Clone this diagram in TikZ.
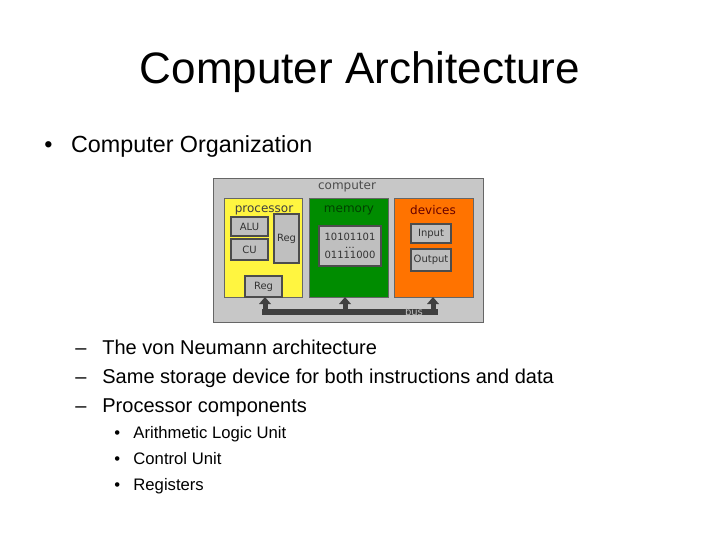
\documentclass[tikz,border=0pt]{standalone}
\usepackage{fontspec}
\setmainfont{Liberation Sans}
\newfontfamily\vfont{DejaVu Sans}
\begin{document}
\begin{tikzpicture}[x=0.75pt,y=-0.75pt,
  gbox/.style={draw=black!70,fill=black!25,line width=0.8pt},
  lbl/.style={font=\vfont\fontsize{7.5}{8}\selectfont,inner sep=0pt,text=black!80},
  hd/.style={font=\vfont\fontsize{9}{10}\selectfont,inner sep=0pt},
  txt/.style={anchor=base west,inner sep=0pt}]
\useasboundingbox (0,0) rectangle (720,540);
\node[txt,anchor=base,font=\fontsize{33}{38}\selectfont] (title) at (360,83) {Computer Architecture};
\node[txt,font=\fontsize{17.5}{20}\selectfont] (b1) at (44,152) {•\hspace{14pt}Computer Organization};
% diagram
\draw[fill=black!22,draw=black!60] (213,178) rectangle (483,322);
\node[hd,text=black!70] (comp) at (347,187) {computer};
\draw[fill=yellow!75,draw=black!60] (224,198) rectangle (302,297);
\draw[fill=green!55!black,draw=black!60] (309,198) rectangle (388,297);
\draw[fill=orange!90!red,draw=black!60] (394,198) rectangle (473,297);
\node[hd,text=black!75] (proc) at (264,210) {processor};
\node[hd,text=green!25!black] (mem) at (349,210) {memory};
\node[hd,text=red!40!black] (dev) at (433,210) {devices};
\draw[gbox] (231,217) rectangle node[lbl] (alu) {ALU} (268,236);
\draw[gbox] (231,239) rectangle node[lbl] (cu) {CU} (268,260);
\draw[gbox] (274,214) rectangle node[lbl] (reg1) {Reg} (299,263);
\draw[gbox] (245,276) rectangle node[lbl] (reg2) {Reg} (282,297);
\draw[gbox] (319,226) rectangle (381,266);
\node[lbl,align=center] (bits) at (350,246) {10101101\\[-2pt]...\\[-1pt]01111000};
\draw[gbox] (411,224) rectangle node[lbl] (inp) {Input} (451,243);
\draw[gbox] (411,249) rectangle node[lbl] (outp) {Output} (451,271);
\fill[black!75] (262,309) rectangle (438,315);
\foreach \x in {265,345,433}{
  \fill[black!75] (\x-2.5,315) rectangle (\x+2.5,303);
  \fill[black!75] (\x-6,304) -- (\x+6,304) -- (\x,297) -- cycle;}
\node[lbl,text=black!25] (bus) at (414,312) {bus};
% bullets
\node[txt,font=\fontsize{15}{18}\selectfont] (s1) at (75,354) {–\hspace{12pt}The von Neumann architecture};
\node[txt,font=\fontsize{15}{18}\selectfont] (s2) at (75,383) {–\hspace{12pt}Same storage device for both instructions and data};
\node[txt,font=\fontsize{15}{18}\selectfont] (s3) at (75,412) {–\hspace{12pt}Processor components};
\node[txt,font=\fontsize{12.5}{14}\selectfont] (t1) at (114,438) {•\hspace{10pt}Arithmetic Logic Unit};
\node[txt,font=\fontsize{12.5}{14}\selectfont] (t2) at (114,464) {•\hspace{10pt}Control Unit};
\node[txt,font=\fontsize{12.5}{14}\selectfont] (t3) at (114,490) {•\hspace{10pt}Registers};
\end{tikzpicture}
\end{document}
